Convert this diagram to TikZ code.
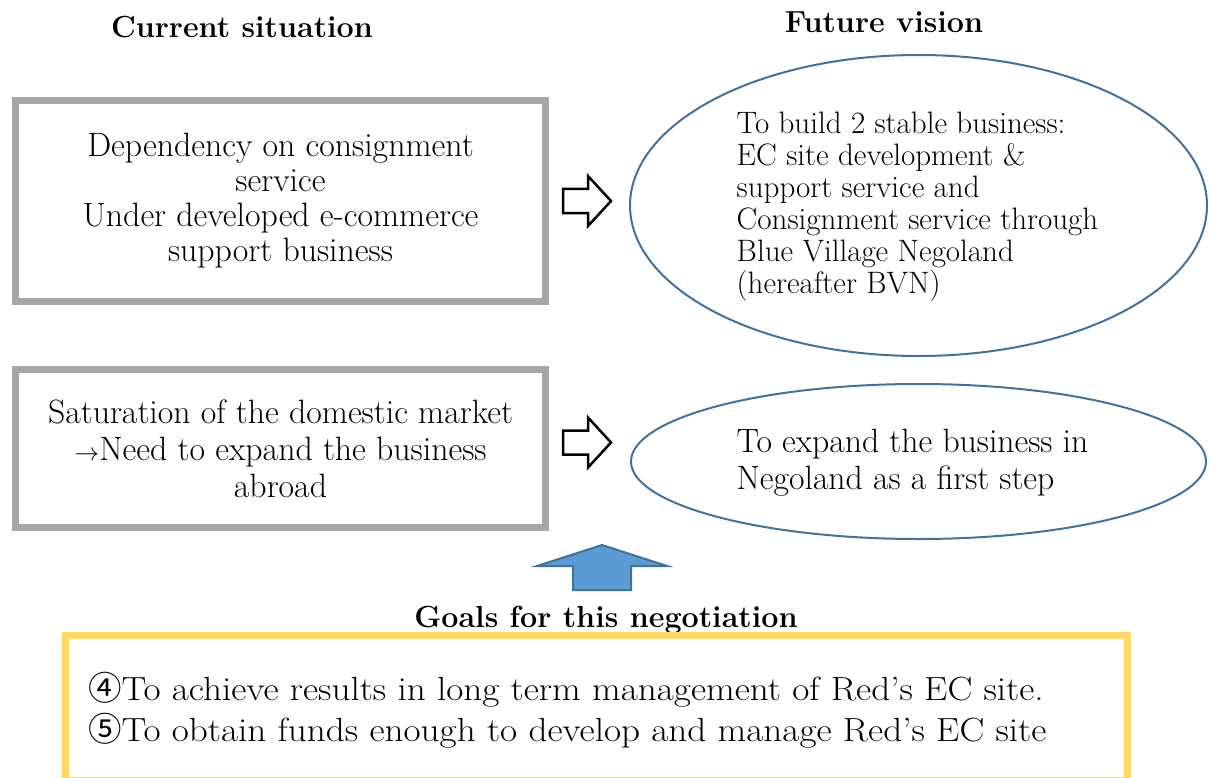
\documentclass[tikz,border=0pt]{standalone}
\usepackage{fontspec}
\newfontfamily\circledfont{Noto Sans CJK JP}
\newfontfamily\widefont[Ligatures=TeX, FakeStretch=1.11]{Latin Modern Roman}
\usetikzlibrary{shapes.geometric}

\definecolor{framegray}{RGB}{166,166,166}
\definecolor{visionblue}{RGB}{65,113,156}
\definecolor{goalyellow}{RGB}{255,217,102}
\definecolor{pushblue}{RGB}{91,155,213}

\tikzset{
  heading/.style={font=\bfseries\fontsize{30.5}{34}\selectfont},
  situation/.style={draw=framegray, line width=7pt, minimum width=530pt,
    inner sep=0pt, align=center, font=\fontsize{33.8}{35}\selectfont},
  vision/.style={ellipse, draw=visionblue, line width=2pt, inner sep=0pt},
  vision text/.style={align=left, inner sep=0pt, font=\fontsize{31}{32}\selectfont},
  goal/.style={draw=goalyellow, line width=7pt, minimum width=1062pt},
  goal text/.style={align=left, inner sep=0pt, font=\widefont\fontsize{33.5}{41}\selectfont},
  hollow arrow/.pic={
    \draw[line width=2.5pt, fill=white]
      (-24,-12) -- (1,-12) -- (1,-25) -- (24,0) -- (1,25) -- (1,12) -- (-24,12) -- cycle;
  }
}

\begin{document}
\begin{tikzpicture}[x=1pt, y=-1pt]
        \useasboundingbox (0,0) rectangle (1209,778);
        % column headings
        \node [heading] (now-title) at (242,27) {Current situation};
        \node [heading] (future-title) at (884,22) {Future vision};
        % current situation
        \node [situation, minimum height=201pt] (now-1) at (280.5,201)
          {Dependency on consignment\\service\\Under developed e-commerce\\support business};
        \node [situation, minimum height=158pt, font=\fontsize{33.8}{37}\selectfont] (now-2) at (280.5,448.5)
          {Saturation of the domestic market\\$\rightarrow$Need to expand the business\\abroad};
        % future vision
        \node [vision, minimum width=577pt, minimum height=301pt] (future-1) at (918.5,205.5) {};
        \node [vision text] (future-1-text) at (917.5,207)
          {To build 2 stable business:\\EC site development \&\\support service and\\Consignment service through\\Blue Village Negoland\\(hereafter BVN)};
        \node [vision, minimum width=575pt, minimum height=155pt] (future-2) at (918.5,461.5) {};
        \node [vision text, font=\fontsize{33.7}{37}\selectfont] (future-2-text) at (912.5,463)
          {To expand the business in\\Negoland as a first step};
        % arrows between the columns
        \foreach \y in {201,442.5}
          \pic at (587,\y) {hollow arrow};
        % goals
        \draw [draw=visionblue, line width=2pt, fill=pushblue]
          (573,590) -- (573,566) -- (537,566) -- (602,545) -- (667,566)
          -- (631,566) -- (631,590) -- cycle;
        \node [heading] (goals-title) at (606,620) {Goals for this negotiation};
        \node [goal, minimum height=145pt] (goals) at (596.5,708) {};
        \node [goal text, anchor=west] (goal-list) at (88,710.5)
          {{\circledfont ④}To achieve results in long term management of Red's EC site.\\
           {\circledfont ⑤}To obtain funds enough to develop and manage Red's EC site};
\end{tikzpicture}
\end{document}
